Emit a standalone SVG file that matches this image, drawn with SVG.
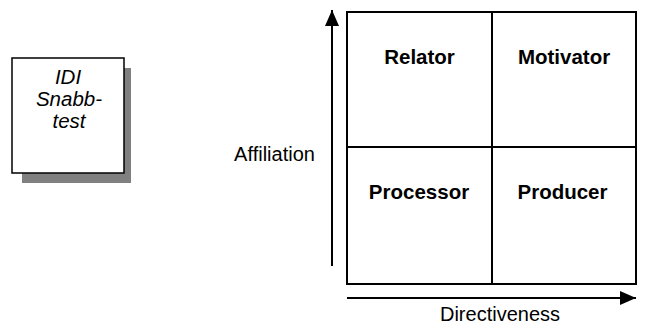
<svg xmlns="http://www.w3.org/2000/svg" width="653" height="326" viewBox="0 0 653 326">
  <style>
    .t { font-family: "Liberation Sans", Arial, sans-serif; fill: #000; text-anchor: middle; }
    .q { font-size: 20.5px; font-weight: bold; }
    .ax { font-size: 20px; }
    .idi { font-size: 20.5px; font-style: italic; }
    .ln { stroke: #000; stroke-width: 2; fill: none; }
  </style>
  <defs>
    <marker id="ah" viewBox="0 0 16 14" refX="16" refY="7" markerWidth="16" markerHeight="14" markerUnits="userSpaceOnUse" orient="auto">
      <path d="M0,0 L16,7 L0,14 Z" fill="#000"/>
    </marker>
  </defs>

  <rect width="653" height="326" fill="#fff"/>

  <!-- IDI box with drop shadow -->
  <g id="idi-box">
    <rect x="22" y="68" width="109" height="115" fill="#808080"/>
    <rect x="12" y="58" width="112" height="115" fill="#fff" stroke="#000" stroke-width="1.5"/>
    <text class="t idi" x="68" y="84">IDI</text>
    <text class="t idi" x="69" y="106">Snabb-</text>
    <text class="t idi" x="69" y="128">test</text>
  </g>

  <!-- quadrant grid -->
  <g id="grid">
    <rect x="347" y="12" width="289" height="272" class="ln"/>
    <line x1="492" y1="12" x2="492" y2="284" class="ln"/>
    <line x1="347" y1="147" x2="636" y2="147" class="ln"/>
  </g>

  <g id="relator"><text class="t q" x="419.5" y="64">Relator</text></g>
  <g id="motivator"><text class="t q" x="564" y="64">Motivator</text></g>
  <g id="processor"><text class="t q" x="419" y="199">Processor</text></g>
  <g id="producer"><text class="t q" x="562.5" y="199">Producer</text></g>

  <!-- axes -->
  <g id="connectors">
    <line x1="332" y1="266" x2="332" y2="10" class="ln" marker-end="url(#ah)"/>
    <line x1="347" y1="298" x2="636" y2="298" class="ln" marker-end="url(#ah)"/>
  </g>

  <g id="axis-labels">
    <text class="t ax" x="274.5" y="161">Affiliation</text>
    <text class="t ax" x="500" y="321">Directiveness</text>
  </g>
</svg>
